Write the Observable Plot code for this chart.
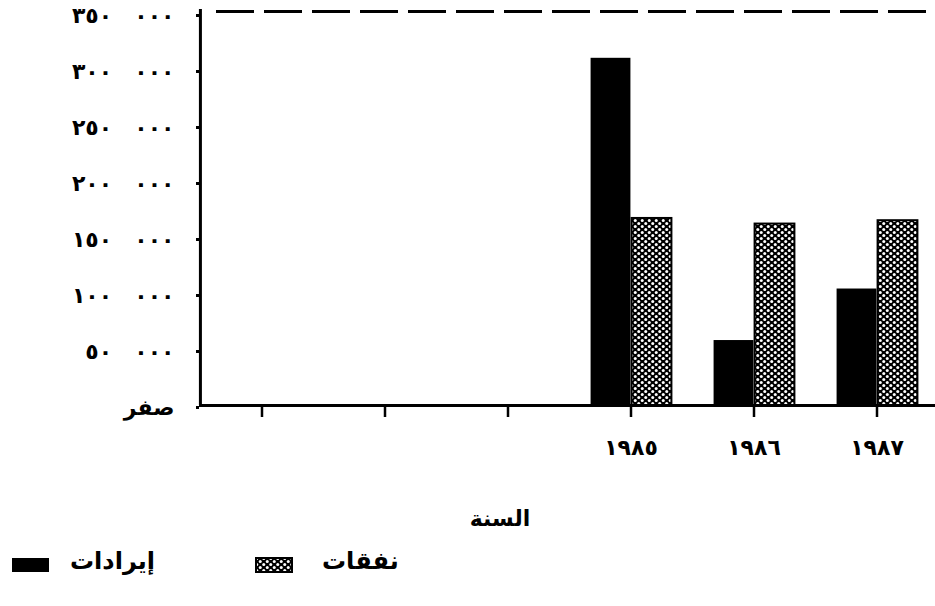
<!DOCTYPE html>
<html>
<head>
<meta charset="utf-8">
<script src="https://cdn.jsdelivr.net/npm/d3@7"></script>
<script src="https://cdn.jsdelivr.net/npm/@observablehq/plot@0.6"></script>
<style>
  body { margin: 0; background: #fff; font-family: "DejaVu Sans", sans-serif; }
  #wrap { position: relative; width: 935px; height: 606px; overflow: hidden; background: #fff; }
  #chart { position: absolute; left: 0; top: 0; }
  .ar { position: absolute; font-family: "DejaVu Sans", sans-serif; font-weight: bold; color: #000; white-space: nowrap; }
  #xlabel { left: 0; width: 1000px; top: 506px; text-align: center; font-size: 22px; direction: rtl; }
  .sw { position: absolute; }
</style>
</head>
<body>
<svg width="0" height="0" style="position:absolute">
  <defs>
    <pattern id="dots" patternUnits="userSpaceOnUse" width="7" height="6">
      <rect width="7" height="6" fill="#000"></rect>
      <circle cx="1.75" cy="1.5" r="1.5" fill="#fff"></circle>
      <circle cx="5.25" cy="4.5" r="1.5" fill="#fff"></circle>
    </pattern>
  </defs>
</svg>
<div id="wrap">
  <div id="chart"></div>
  <div id="xlabel" class="ar"></div>
  <svg class="sw" style="left:12px;top:558px" width="37" height="14"><rect x="0" y="0" width="37" height="14" fill="#000"></rect></svg>
  <div id="leg1" class="ar" style="left:70px;top:547px;font-size:24px;letter-spacing:3px;direction:ltr"></div>
  <svg class="sw" style="left:255px;top:557px" width="38" height="16"><rect x="1" y="1" width="36" height="14" fill="url(#dots)" stroke="#000" stroke-width="2"></rect></svg>
  <div id="leg2" class="ar" style="left:322px;top:547px;font-size:24px;letter-spacing:1px;direction:ltr"></div>
</div>
<script>
// ---- data ----
const years = ["1982", "1983", "1984", "1985", "1986", "1987"];
const yearLabels = ["", "", "", "١٩٨٥", "١٩٨٦", "١٩٨٧"];
const dataYears = ["1985", "1986", "1987"];
const revenues = [310000, 58000, 104000];
const expenses = [167000, 162000, 165000];
const yTicks = [0, 50000, 100000, 150000, 200000, 250000, 300000, 350000];
const yTickLabels = ["صفر", "٥٠", "١٠٠", "١٥٠", "٢٠٠", "٢٥٠", "٣٠٠", "٣٥٠"];
const thousandsPart = "٠٠٠";
const seriesNames = ["إيرادات", "نفقات"];
const xTitle = "السنة";

// ---- layout ----
const W = 935, H = 480, ML = 199, MR = -3, MT = 13, MB = 75;
const bw = (W - ML - MR) / years.length;
const half = bw / 2;

const revData = dataYears.map((y, i) => ({year: y, value: revenues[i]}));
const expData = dataYears.map((y, i) => ({year: y, value: expenses[i]}));

const LRM = "\u200E";
const fmtY = d => {
  const i = yTicks.indexOf(d);
  if (i === 0) return yTickLabels[0];
  return yTickLabels[i] + LRM + "\u2002\u2002" + LRM + thousandsPart;
};

const chart = Plot.plot({
  width: W,
  height: H,
  marginLeft: ML,
  marginRight: MR,
  marginTop: MT,
  marginBottom: MB,
  style: {fontFamily: "DejaVu Sans, sans-serif", fontWeight: "bold", background: "#fff", color: "#000", overflow: "visible", letterSpacing: "1.5px"},
  x: {type: "band", domain: years, padding: 0, axis: null},
  y: {domain: [0, 350000], axis: null},
  marks: [
    Plot.barY(revData, {x: "year", y: "value", fill: "#000", insetLeft: half - 40, insetRight: half}),
    Plot.barY(expData, {x: "year", y: "value", fill: "url(#dots)", stroke: "#000", strokeWidth: 2, insetLeft: half + 1, insetRight: half - 41}),
    Plot.ruleY([0], {stroke: "#000", strokeWidth: 3}),
    Plot.ruleY([350000], {stroke: "#000", strokeWidth: 3, strokeDasharray: "38,10", insetLeft: 17, dy: -2}),
    Plot.ruleX([years[0]], {stroke: "#000", strokeWidth: 3, dx: -half, insetTop: -4}),
    Plot.axisX({
      tickFormat: d => yearLabels[years.indexOf(d)],
      tickSize: 12, tickPadding: 22, fontSize: 22, fontWeight: "bold",
      strokeWidth: 2.5, label: null
    }),
    Plot.axisY({
      ticks: yTicks, tickFormat: fmtY,
      tickSize: 3, tickPadding: 22, fontSize: 22, fontWeight: "bold",
      strokeWidth: 3, label: null, dy: 2
    })
  ]
});
document.getElementById("chart").appendChild(chart);
document.getElementById("xlabel").textContent = xTitle;
document.getElementById("leg1").textContent = seriesNames[0];
document.getElementById("leg2").textContent = seriesNames[1];
</script>
</body>
</html>
